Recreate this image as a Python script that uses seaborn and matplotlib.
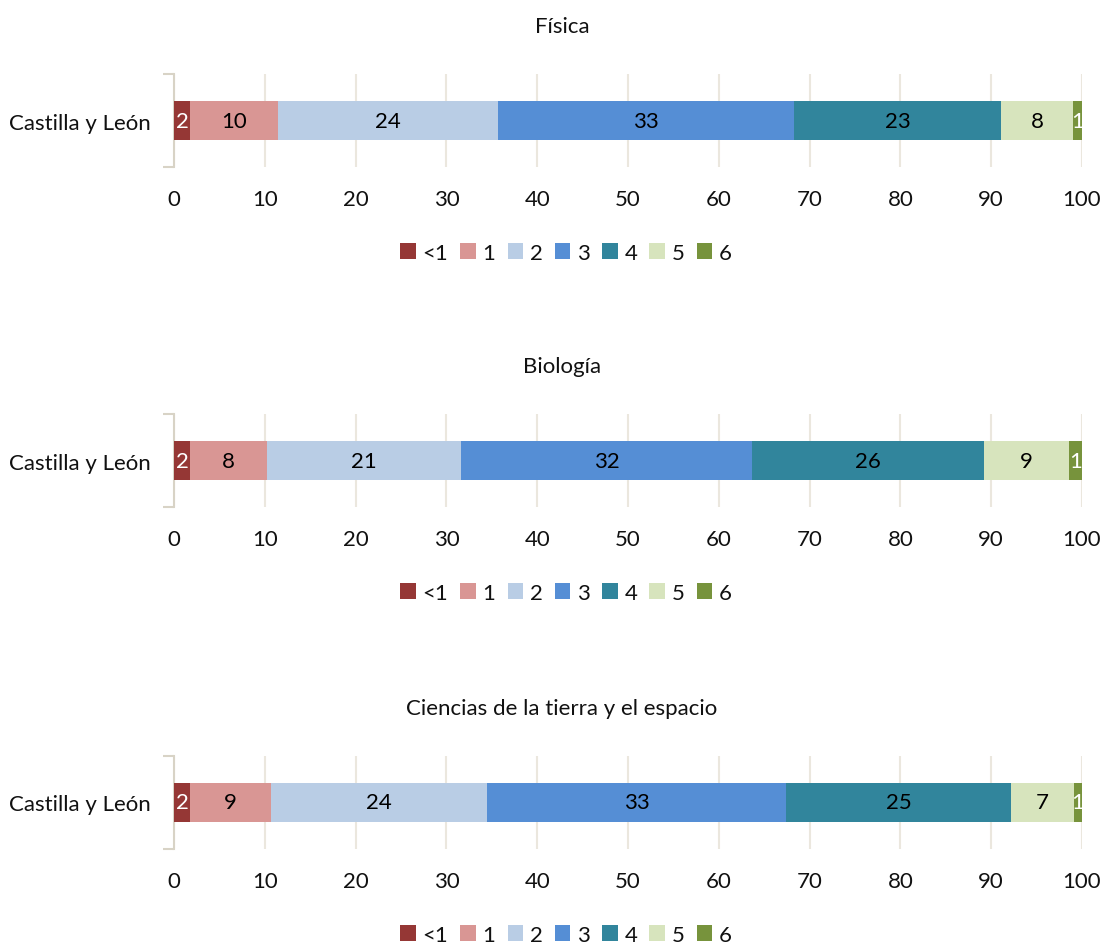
import numpy as np
import matplotlib
matplotlib.use('Agg')
import matplotlib.pyplot as plt
import seaborn as sns
from matplotlib.patches import Patch

# data (percent of students per level)
subjects = ['Física', 'Biología', 'Ciencias de la tierra y el espacio']
region = 'Castilla y León'
levels = ['<1', '1', '2', '3', '4', '5', '6']
fisica = [1.8, 9.7, 24.2, 32.6, 22.8, 7.9, 1.0]
biologia = [1.8, 8.4, 21.4, 32.1, 25.5, 9.4, 1.4]
ciencias = [1.8, 8.9, 23.8, 32.9, 24.8, 6.9, 0.9]
values = [fisica, biologia, ciencias]

colors = ['#953735', '#d99694', '#b9cde5', '#558ed5', '#31859c', '#d7e4bd', '#77933c']
text_colors = ['white', 'black', 'black', 'black', 'black', 'black', 'white']

sns.set_theme(style='white')
plt.rcParams['font.family'] = ['Lato', 'DejaVu Sans']
fs = 16

W, H = 1102, 945
fig = plt.figure(figsize=(W / 100, H / 100), dpi=100)

grid_col = '#ebe7de'
spine_col = '#d8d3c6'

# axes tops (px) for each panel
tops = [75, 415, 757]
for i, (subj, vals) in enumerate(zip(subjects, values)):
    top = tops[i]
    ax = fig.add_axes([174 / W, 1 - (top + 93) / H, 908 / W, 93 / H])
    left = 0
    for j, v in enumerate(vals):
        bars = ax.barh([0], [v], left=left, height=0.42, color=colors[j], edgecolor='none', zorder=3)
        ax.bar_label(bars, labels=[f'{v:.0f}'], label_type='center', color=text_colors[j], fontsize=fs)
        left += v
    ax.set_xlim(0, 100)
    ax.set_ylim(-0.5, 0.5)
    ax.set_xticks(np.arange(0, 101, 10))
    ax.grid(axis='x', color=grid_col, linewidth=1.5, zorder=0)
    ax.grid(axis='y', visible=False)
    for s in ['top', 'right', 'bottom']:
        ax.spines[s].set_visible(False)
    ax.spines['left'].set_color(spine_col)
    ax.spines['left'].set_linewidth(1.5)
    ax.set_yticks([0], labels=[region])
    ax.set_yticks([-0.5, 0.5], minor=True)
    ax.tick_params(axis='y', which='major', length=0, pad=17, labelsize=fs, labelcolor='#111111')
    ax.tick_params(axis='y', which='minor', length=8, width=1.5, color=spine_col, left=True)
    ax.tick_params(axis='x', length=0, pad=16, labelsize=fs, labelcolor='#111111')
    ax.set_title(subj, fontsize=fs, pad=30, x=(562 - 174) / 908, color='#111111')
    handles = [Patch(facecolor=c, edgecolor='none', label=l) for c, l in zip(colors, levels)]
    fig.legend(handles=handles, loc='center', ncol=7, frameon=False,
               bbox_to_anchor=(566 / W, 1 - (top + 179) / H), fontsize=fs, labelcolor='#111111',
               handlelength=0.7, handleheight=0.7, handletextpad=0.3, columnspacing=0.55)

fig.savefig('out.png', dpi=100)
